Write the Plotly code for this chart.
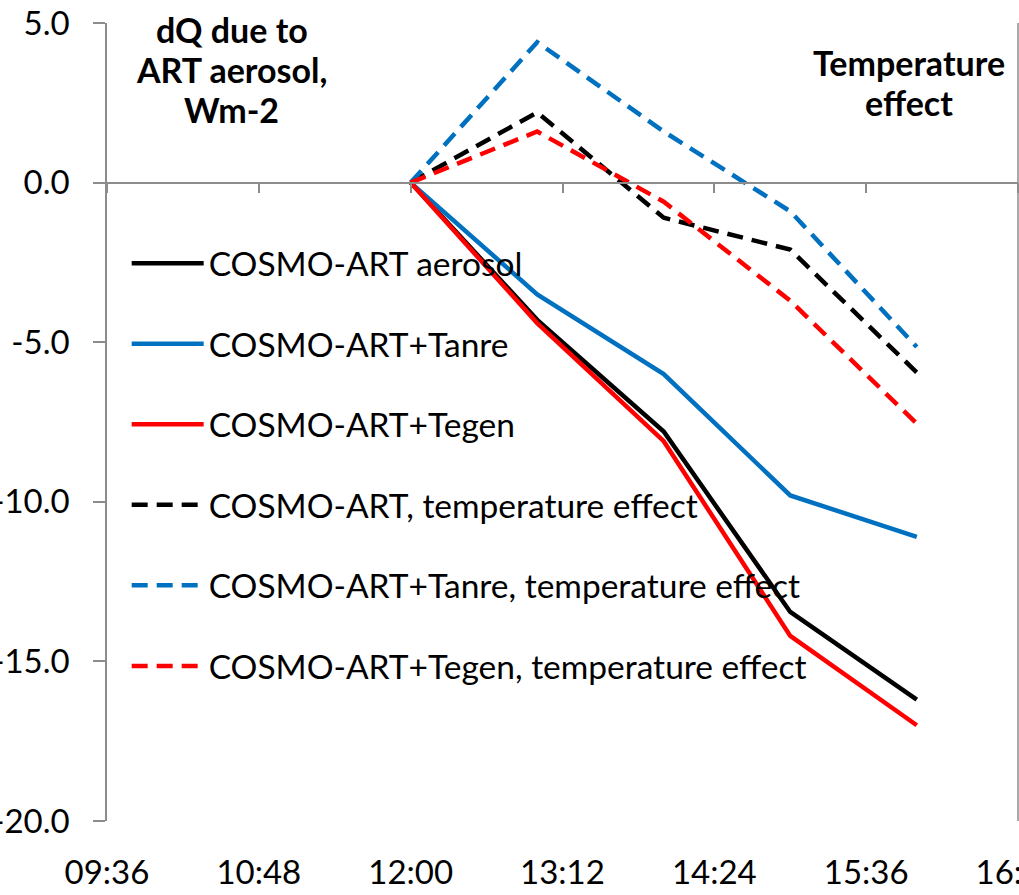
import plotly.graph_objects as go

times = ["2000-01-01 12:00", "2000-01-01 13:00", "2000-01-01 14:00",
         "2000-01-01 15:00", "2000-01-01 16:00"]
art_aerosol = [0.0, -4.3, -7.8, -13.45, -16.2]
art_tanre = [0.0, -3.5, -6.0, -9.8, -11.1]
art_tegen = [0.0, -4.4, -8.1, -14.2, -17.0]
art_aerosol_temp = [0.0, 2.2, -1.1, -2.1, -5.95]
art_tanre_temp = [0.0, 4.4, 1.6, -0.9, -5.15]
art_tegen_temp = [0.0, 1.6, -0.6, -3.7, -7.55]

names = ["COSMO-ART aerosol", "COSMO-ART+Tanre", "COSMO-ART+Tegen",
         "COSMO-ART, temperature effect", "COSMO-ART+Tanre, temperature effect",
         "COSMO-ART+Tegen, temperature effect"]
series = [art_aerosol, art_tanre, art_tegen, art_aerosol_temp, art_tanre_temp, art_tegen_temp]
colors = ["#000000", "#0070C0", "#FF0000", "#000000", "#0070C0", "#FF0000"]
dashes = ["solid", "solid", "solid", "16px,9px", "16px,9px", "16px,9px"]

y_tickvals = [-20, -15, -10, -5, 0, 5]
y_ticktext = ["-20.0", "-15.0", "-10.0", "-5.0", "0.0", "5.0"]

FONT = "Lato"
AX = "#8c8c8c"

fig = go.Figure()
for i, (n, s, c, d) in enumerate(zip(names, series, colors, dashes)):
    fig.add_trace(go.Scatter(x=times, y=s, mode="lines", name=n, legendgroup=f"g{i}",
                             line=dict(color=c, width=4.5, dash=d)))

# helper trace for the axis drawn at y = 0
fig.add_trace(go.Scatter(x=times, y=[None] * len(times), xaxis="x2", showlegend=False,
                         hoverinfo="skip", mode="lines"))

xr = ["2000-01-01 09:36", "2000-01-01 16:48"]
fig.update_layout(
    width=1019, height=895,
    margin=dict(l=107, r=1, t=23, b=74, autoexpand=False),
    plot_bgcolor="white", paper_bgcolor="white",
    font=dict(family=FONT, size=32, color="black"),
    showlegend=True,
    legend=dict(x=0.0216, y=0.7345, xanchor="left", yanchor="top",
                bgcolor="rgba(0,0,0,0)", traceorder="grouped", tracegroupgap=34,
                itemwidth=72, font=dict(family=FONT, size=33.5)),
    xaxis=dict(range=xr, type="date", tickformat="%H:%M", tick0="2000-01-01 09:36",
               dtick=72 * 60 * 1000, showgrid=False, zeroline=False, showline=False,
               ticks="", ticklabelstandoff=29, tickfont=dict(size=33),
               ticklabeloverflow="allow", automargin=False),
    xaxis2=dict(range=xr, type="date", matches="x", overlaying="x", anchor="free",
                position=0.8, tick0="2000-01-01 09:36", dtick=72 * 60 * 1000,
                showgrid=False, zeroline=False, showline=True, linecolor=AX, linewidth=1.5,
                ticks="outside", ticklen=10, tickwidth=1.5, tickcolor=AX,
                showticklabels=False, automargin=False),
    yaxis=dict(range=[-20, 5], tickvals=y_tickvals, ticktext=y_ticktext, showgrid=False,
               zeroline=False, showline=True, linecolor=AX, linewidth=1.5,
               ticks="outside", ticklen=12, tickwidth=1.5, tickcolor=AX,
               ticklabelstandoff=17, tickfont=dict(size=33),
               ticklabeloverflow="allow", automargin=False),
    shapes=[dict(type="line", xref="paper", yref="paper", x0=1, x1=1, y0=0, y1=1,
                 line=dict(color=AX, width=1.5))],
    annotations=[
        dict(text="<b>dQ due to</b>", xref="paper", yref="paper", x=0.137, y=0.992),
        dict(text="<b>ART aerosol,</b>", xref="paper", yref="paper", x=0.137, y=0.942),
        dict(text="<b>Wm-2</b>", xref="paper", yref="paper", x=0.137, y=0.892),
        dict(text="<b>Temperature</b>", xref="paper", yref="paper", x=0.880, y=0.950),
        dict(text="<b>effect</b>", xref="paper", yref="paper", x=0.880, y=0.900),
    ],
)
fig.update_annotations(xanchor="center", yanchor="middle", showarrow=False,
                       font=dict(family=FONT, size=34))

fig.write_html("out.html")
